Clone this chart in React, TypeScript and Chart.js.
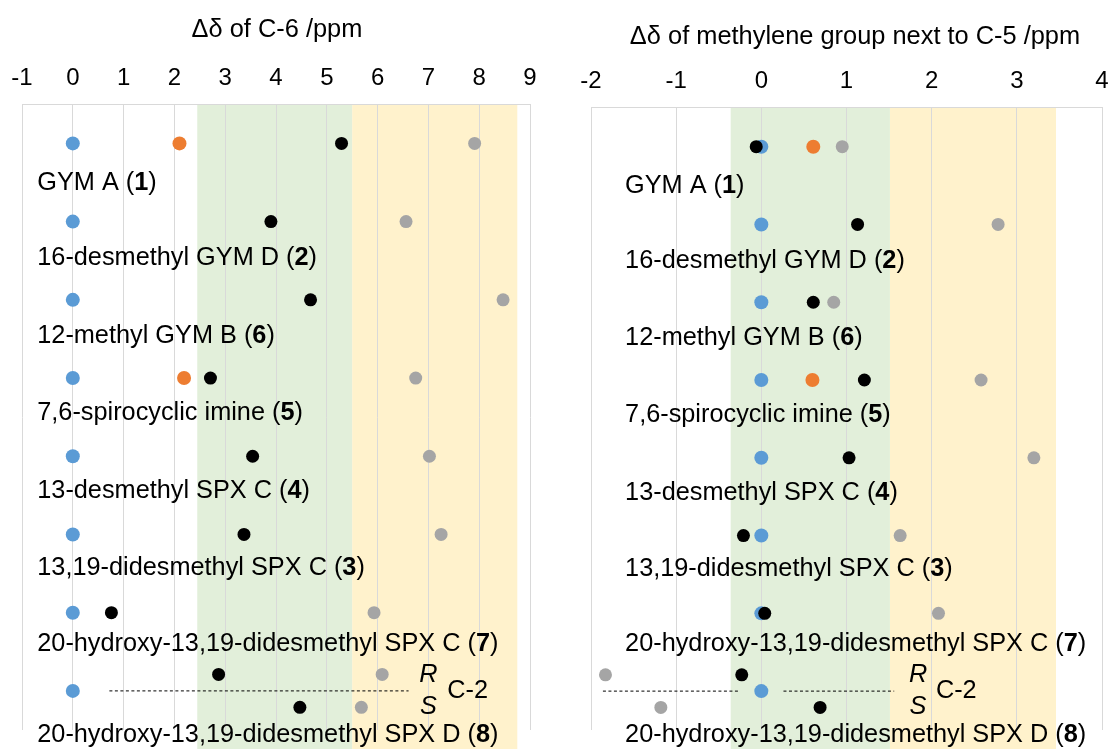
import React, { useEffect, useRef } from "react";
import { Chart, registerables } from "chart.js";
Chart.register(...registerables);

// ---------------- data ----------------
const compoundNames = [
  "GYM A",
  "16-desmethyl GYM D",
  "12-methyl GYM B",
  "7,6-spirocyclic imine",
  "13-desmethyl SPX C",
  "13,19-didesmethyl SPX C",
  "20-hydroxy-13,19-didesmethyl SPX C",
  "20-hydroxy-13,19-didesmethyl SPX D",
];
const compoundNumbers = ["1", "2", "6", "5", "4", "3", "7", "8"];
const rowIndex = [1, 2, 3, 4, 5, 6, 7, 8];
const rsLabels = ["R", "S"];
const c2Label = "C-2";

// Panel A: C-6
const c6Title = "Δδ of C-6 /ppm";
const c6Range = [-1, 9];
const c6Blue = [0, 0, 0, 0, 0, 0, 0, 0];
const c6Orange = [2.1, null, null, 2.19, null, null, null, null];
const c6Black = [5.29, 3.9, 4.68, 2.71, 3.54, 3.37, 0.76, null];
const c6Gray = [7.91, 6.56, 8.47, 6.75, 7.02, 7.25, 5.93, null];
const c6BlackRS = [2.87, 4.47];
const c6GrayRS = [6.09, 5.68];
const c6GreenBand = [2.45, 5.5];
const c6YellowBand = [5.5, 8.75];
const c6DashSegments = [[0.72, 6.61]];

// Panel B: methylene next to C-5
const ch2Title = "Δδ of methylene group next to C-5 /ppm";
const ch2Range = [-2, 4];
const ch2Blue = [0, 0, 0, 0, 0, 0, 0, 0];
const ch2Orange = [0.61, null, null, 0.6, null, null, null, null];
const ch2Black = [-0.06, 1.13, 0.61, 1.21, 1.03, -0.21, 0.04, null];
const ch2Gray = [0.95, 2.78, 0.85, 2.58, 3.2, 1.63, 2.08, null];
const ch2BlackRS = [-0.23, 0.69];
const ch2GrayRS = [-1.83, -1.18];
const ch2GreenBand = [-0.36, 1.51];
const ch2YellowBand = [1.51, 3.46];
const ch2DashSegments = [
  [-1.86, -0.25],
  [0.26, 1.56],
];

// ---------------- styling / layout ----------------
const FONT = "'Liberation Sans', Arial, Helvetica, sans-serif";
const LABEL_SIZE = 25.3;
const TITLE_SIZE = 25.4;
const TICK_SIZE = 24;
const COLORS = {
  blue: "#5B9BD5",
  orange: "#ED7D31",
  black: "#000000",
  gray: "#A5A5A5",
  green: "#E2EFDA",
  yellow: "#FFF2CC",
  grid: "#D9D9D9",
};
const RS_OFFSET = 0.21;
const LABEL_DY = [0.51, 0.47, 0.46, 0.45, 0.45, 0.43, 0.4, 0.56];

type PanelSpec = {
  title: string;
  range: number[];
  blue: (number | null)[];
  orange: (number | null)[];
  black: (number | null)[];
  gray: (number | null)[];
  blackRS: number[];
  grayRS: number[];
  green: number[];
  yellow: number[];
  dashes: number[][];
  labelX: number;
  rsX: number;
  c2X: number;
  titleDx: number;
  titleY: number;
  tickPad: number;
  padding: { left: number; right: number; top: number; bottom: number };
};

const panels: PanelSpec[] = [
  {
    title: c6Title,
    range: c6Range,
    blue: c6Blue,
    orange: c6Orange,
    black: c6Black,
    gray: c6Gray,
    blackRS: c6BlackRS,
    grayRS: c6GrayRS,
    green: c6GreenBand,
    yellow: c6YellowBand,
    dashes: c6DashSegments,
    labelX: -0.7,
    rsX: 7.0,
    c2X: 7.37,
    titleDx: 1,
    titleY: 30,
    tickPad: 11.5,
    padding: { left: 22, right: 30, top: 52.5, bottom: 19 },
  },
  {
    title: ch2Title,
    range: ch2Range,
    blue: ch2Blue,
    orange: ch2Orange,
    black: ch2Black,
    gray: ch2Gray,
    blackRS: ch2BlackRS,
    grayRS: ch2GrayRS,
    green: ch2GreenBand,
    yellow: ch2YellowBand,
    dashes: ch2DashSegments,
    labelX: -1.6,
    rsX: 1.84,
    c2X: 2.05,
    titleDx: 8.5,
    titleY: 37,
    tickPad: 12,
    padding: { left: 31, right: 8, top: 55, bottom: 19 },
  },
];

const rsRows = [8 - RS_OFFSET, 8 + RS_OFFSET];

function toPoints(vals: (number | null)[], ys: number[]) {
  const out: { x: number; y: number }[] = [];
  vals.forEach((v, i) => {
    if (v !== null && v !== undefined) out.push({ x: v, y: ys[i] });
  });
  return out;
}

function makeDecor(p: PanelSpec) {
  return {
    id: "decor",
    beforeDraw(chart: any) {
      const { ctx, chartArea } = chart;
      const x = chart.scales.x;
      ctx.save();
      const bands: [number[], string][] = [
        [p.green, COLORS.green],
        [p.yellow, COLORS.yellow],
      ];
      for (const [b, c] of bands) {
        const x0 = x.getPixelForValue(b[0]);
        const x1 = x.getPixelForValue(b[1]);
        ctx.fillStyle = c;
        ctx.fillRect(x0, chartArea.top, x1 - x0, chart.height - chartArea.top);
      }
      ctx.restore();
    },
    afterDraw(chart: any) {
      const { ctx, chartArea } = chart;
      const x = chart.scales.x;
      const y = chart.scales.y;
      ctx.save();
      ctx.fillStyle = "#000";
      // axis title
      ctx.textBaseline = "middle";
      ctx.textAlign = "center";
      ctx.font = `${TITLE_SIZE}px ${FONT}`;
      ctx.fillText(p.title, (chartArea.left + chartArea.right) / 2 + p.titleDx, p.titleY);
      // row labels
      ctx.textAlign = "left";
      const normal = `${LABEL_SIZE}px ${FONT}`;
      const bold = `bold ${LABEL_SIZE}px ${FONT}`;
      compoundNames.forEach((name, i) => {
        let px = x.getPixelForValue(p.labelX);
        const py = y.getPixelForValue(rowIndex[i] + LABEL_DY[i]);
        const a = `${name} (`;
        ctx.font = normal;
        ctx.fillText(a, px, py);
        px += ctx.measureText(a).width;
        ctx.font = bold;
        ctx.fillText(compoundNumbers[i], px, py);
        px += ctx.measureText(compoundNumbers[i]).width;
        ctx.font = normal;
        ctx.fillText(")", px, py);
      });
      // R / S and C-2
      ctx.textAlign = "center";
      ctx.font = `italic ${LABEL_SIZE}px ${FONT}`;
      rsLabels.forEach((t, i) => {
        ctx.fillText(t, x.getPixelForValue(p.rsX), y.getPixelForValue(rsRows[i]));
      });
      ctx.textAlign = "left";
      ctx.font = normal;
      ctx.fillText(c2Label, x.getPixelForValue(p.c2X), y.getPixelForValue(8));
      ctx.restore();
    },
  };
}

function buildConfig(p: PanelSpec): any {
  const dot = (data: any[], color: string, r: number, order: number) => ({
    type: "scatter",
    data,
    backgroundColor: color,
    borderColor: color,
    borderWidth: 0,
    pointRadius: r,
    pointHoverRadius: r,
    order,
  });
  const dashSets = p.dashes.map((seg) => ({
    type: "scatter",
    data: seg.map((v) => ({ x: v, y: 8 })),
    showLine: true,
    borderColor: "#000",
    borderWidth: 1,
    borderDash: [3, 2.5],
    pointRadius: 0,
    order: 10,
  }));
  return {
    type: "scatter",
    data: {
      datasets: [
        ...dashSets,
        dot(toPoints(p.blue, rowIndex), COLORS.blue, 7, 6),
        dot(toPoints(p.orange, rowIndex), COLORS.orange, 7, 5),
        dot(toPoints(p.black, rowIndex), COLORS.black, 6.5, 4),
        dot(toPoints(p.gray, rowIndex), COLORS.gray, 6.5, 3),
        dot(toPoints(p.blackRS, rsRows), COLORS.black, 6.5, 4),
        dot(toPoints(p.grayRS, rsRows), COLORS.gray, 6.5, 3),
      ],
    },
    options: {
      responsive: false,
      animation: false,
      events: [],
      layout: { padding: p.padding },
      plugins: {
        legend: { display: false },
        tooltip: { enabled: false },
      },
      scales: {
        x: {
          type: "linear",
          position: "top",
          min: p.range[0],
          max: p.range[1],
          afterFit: (scale: any) => {
            scale.paddingLeft = 0;
            scale.paddingRight = 0;
          },
          ticks: {
            stepSize: 1,
            color: "#000",
            font: { family: FONT, size: TICK_SIZE },
            padding: p.tickPad,
          },
          grid: {
            color: COLORS.grid,
            lineWidth: 1,
            drawTicks: false,
            tickLength: 0,
          },
          border: { display: true, color: COLORS.grid, width: 1 },
          title: { display: false },
        },
        y: {
          type: "linear",
          display: false,
          min: 0.5,
          max: 8.5,
          reverse: true,
        },
      },
    },
    plugins: [makeDecor(p)],
  };
}

function Panel({ spec, left, width }: { spec: PanelSpec; left: number; width: number }) {
  const ref = useRef<HTMLCanvasElement | null>(null);
  useEffect(() => {
    if (!ref.current) return;
    const chart = new Chart(ref.current, buildConfig(spec));
    return () => chart.destroy();
  }, [spec]);
  return (
    <div style={{ position: "absolute", left, top: 0, width, height: 749 }}>
      <canvas ref={ref} width={width} height={749} style={{ display: "block" }} />
    </div>
  );
}

export default function App() {
  return (
    <div
      style={{
        position: "fixed",
        left: 0,
        top: 0,
        width: 1110,
        height: 749,
        background: "#fff",
        overflow: "hidden",
      }}
    >
      <Panel spec={panels[0]} left={0} width={560} />
      <Panel spec={panels[1]} left={560} width={550} />
    </div>
  );
}
